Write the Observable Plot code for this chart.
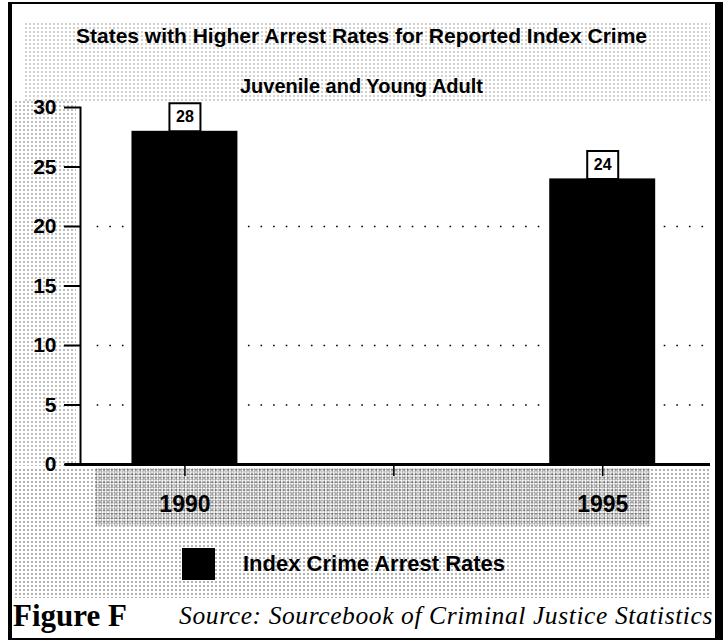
<!DOCTYPE html>
<html>
<head>
<meta charset="utf-8">
<script src="https://cdn.jsdelivr.net/npm/d3@7"></script>
<script src="https://cdn.jsdelivr.net/npm/@observablehq/plot@0.6"></script>
<style>
  html, body { margin: 0; padding: 0; background: #fff; }
  #wrap { position: relative; width: 723px; height: 641px; overflow: hidden; font-family: "Liberation Sans", Arial, sans-serif; }
  .border { position: absolute; left: 8px; top: 2px; width: 703px; height: 634px; border-top: 2px solid #000; border-bottom: 2px solid #000; border-left: 4px solid #000; border-right: 8px solid #000; box-sizing: content-box; }
  .speck { position: absolute; background-image: radial-gradient(circle, #000 0.75px, transparent 0.9px); background-size: 4px 4px; }
  .dense { position: absolute; background-image: radial-gradient(circle, #000 0.8px, transparent 1px); background-size: 2.6px 2.6px; }
  .t { position: absolute; white-space: nowrap; font-weight: bold; color: #000; }
  #chart { position: absolute; left: 0; top: 100px; }
</style>
</head>
<body>
<div id="wrap">
  <div class="speck" style="left:24px; top:22px; width:686px; height:80px; opacity:0.18"></div>
  <div class="speck" style="left:14px; top:100px; width:62px; height:366px; opacity:0.25"></div>
  <div class="speck" style="left:14px; top:468px; width:696px; height:130px; opacity:0.3"></div>
  <div class="dense" style="left:95px; top:468px; width:555px; height:58px; opacity:0.4"></div>
  <div class="border"></div>
  <div class="t" id="title1" style="left:0; width:723px; text-align:center; top:24px; font-size:21px;">States with Higher Arrest Rates for Reported Index Crime</div>
  <div class="t" id="title2" style="left:0; width:723px; text-align:center; top:75px; font-size:20px;">Juvenile and Young Adult</div>
  <div id="chart"></div>
  <div id="legend" style="position:absolute; left:182px; top:548px; height:32px; display:flex; align-items:center;">
    <div style="width:33px; height:32px; background:#000;"></div>
    <div class="t" style="position:static; margin-left:28px; font-size:22px;">Index Crime Arrest Rates</div>
  </div>
  <div class="t" style="left:13px; top:598px; font-family:'Liberation Serif', 'Times New Roman', serif; font-size:31px; font-weight:900;">Figure F</div>
  <div style="position:absolute; right:10px; top:601px; white-space:nowrap; font-family:'Liberation Serif', 'Times New Roman', serif; font-style:italic; font-size:25.5px; letter-spacing:0.6px; color:#000;">Source: Sourcebook of Criminal Justice Statistics</div>
</div>
<script>
// ---- data ----
const years = [1990, 1995];
const rates = [28, 24];
const xTickValues = [1990, 1992.5, 1995];
const xTickLabels = ["1990", "", "1995"];
const yTickValues = [0, 5, 10, 15, 20, 25, 30];
const gridValues = [5, 10, 20];
const seriesName = "Index Crime Arrest Rates";

const data = years.map((y, i) => ({year: y, rate: rates[i]}));
const halfBar = 0.634; // bar half-width in years (style)

// box symbol for the value labels (31 x 28 px)
const boxSymbol = {draw(ctx) { ctx.rect(-15.5, -14, 31, 28); }};

const plot = Plot.plot({
  width: 723,
  height: 430,
  marginLeft: 80,
  marginRight: 13,
  marginTop: 7,
  marginBottom: 66,
  style: {fontFamily: "'Liberation Sans', Arial, sans-serif", color: "#000", background: "transparent", overflow: "visible"},
  x: {domain: [1988.75, 1996.29]},
  y: {domain: [0, 30]},
  marks: [
    Plot.gridY(gridValues, {stroke: "#000", strokeOpacity: 1, strokeWidth: 1.6, strokeDasharray: "1.6,11", x1: 1988.95}),
    Plot.rectY(data, {x1: d => d.year - halfBar, x2: d => d.year + halfBar, y: "rate", fill: "#000"}),
    Plot.frame({anchor: "left", stroke: "#000", strokeWidth: 2}),
    Plot.axisY({ticks: yTickValues, tickSize: 16, tickPadding: 8, strokeWidth: 2, fontSize: 21, fontWeight: "bold", label: null}),
    Plot.axisX({ticks: xTickValues, tickFormat: d => xTickLabels[xTickValues.indexOf(d)], tickSize: 12, tickPadding: 19, strokeWidth: 1.5, fontSize: 23, fontWeight: "bold", label: null}),
    Plot.ruleY([0], {stroke: "#000", strokeWidth: 3, x1: () => 1988.57, x2: () => 1996.29}),
    Plot.dot(data, {x: "year", y: "rate", dy: -14, symbol: boxSymbol, r: 1, fill: "#fff", stroke: "#000", strokeWidth: 2}),
    Plot.text(data, {x: "year", y: "rate", text: d => String(d.rate), dy: -14, fontSize: 16, fontWeight: "bold", fill: "#000"})
  ]
});
document.getElementById("chart").appendChild(plot);
</script>
</body>
</html>
